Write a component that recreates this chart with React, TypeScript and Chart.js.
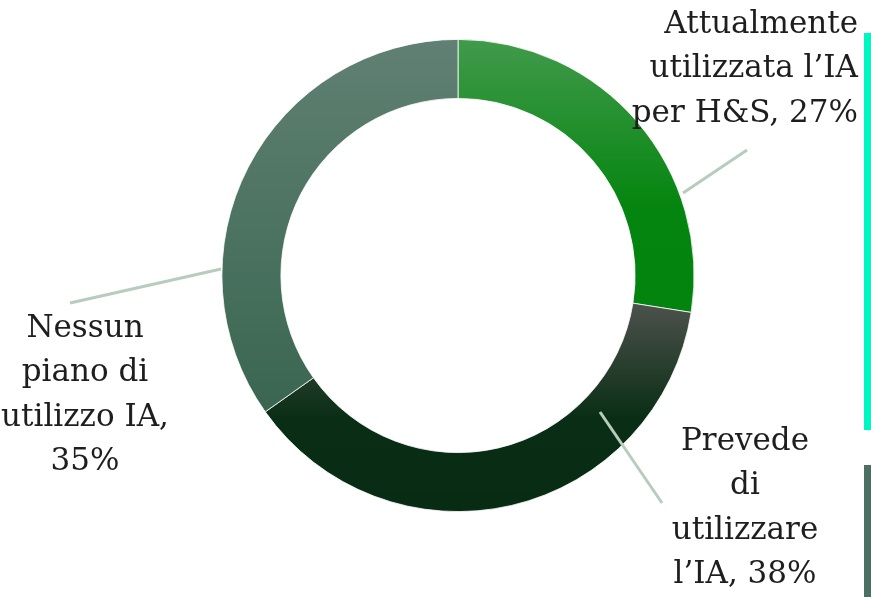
import React, { useEffect, useRef } from "react";
import { Chart, registerables } from "chart.js";

Chart.register(...registerables);

const categories = [
  "Attualmente utilizzata l’IA per H&S",
  "Prevede di utilizzare l’IA",
  "Nessun piano di utilizzo IA",
];
const values = [27.5, 37.7, 34.8];
const labelLines = [
  ["Attualmente", "utilizzata l’IA", "per H&S, 27%"],
  ["Prevede", "di", "utilizzare", "l’IA, 38%"],
  ["Nessun", "piano di", "utilizzo IA,", "35%"],
];
// gradient stops as fraction of ring height (top -> bottom)
const gradientStops: [number, string][][] = [
  [[0, "#419a4b"], [0.36, "#04850f"], [1, "#00800f"]],
  [[0.56, "#4c514c"], [0.8, "#0a2e15"], [1, "#082b13"]],
  [[0, "#608073"], [0.78, "#3a6651"], [1, "#386450"]],
];

// label layout: anchor relative to chart centre
const labelLayout = [
  { align: "right", x: 400, y: -242.5, line: [[225, -82.5], [289, -125.5]] },
  { align: "center", x: 287, y: 174.5, line: [[142, 136.5], [204, 227.5]] },
  { align: "center", x: -373, y: 61.5, line: [[-237, -6.5], [-388, 27.5]] },
];

const labelPlugin = {
  id: "labelPlugin",
  afterDraw(chart: any) {
    const ctx = chart.ctx;
    const meta = chart.getDatasetMeta(0);
    const arc = meta.data[0];
    const cx = arc.x;
    const cy = arc.y;
    ctx.save();
    labelLayout.forEach((l, i) => {
      ctx.strokeStyle = "#b6cdbd";
      ctx.lineWidth = 3;
      ctx.beginPath();
      ctx.moveTo(cx + l.line[0][0], cy + l.line[0][1]);
      ctx.lineTo(cx + l.line[1][0], cy + l.line[1][1]);
      ctx.stroke();
      ctx.fillStyle = "#1e1e1e";
      ctx.font = '31px "DejaVu Serif"';
      ctx.textAlign = l.align as CanvasTextAlign;
      ctx.textBaseline = "alphabetic";
      labelLines[i].forEach((t, j) => {
        ctx.fillText(t, cx + l.x, cy + l.y + j * 44.3);
      });
    });
    // cut-off legend swatches at the right edge
    ctx.fillStyle = "#00f5c0";
    ctx.fillRect(864, 33, 10, 397);
    ctx.fillStyle = "#4b6f61";
    ctx.fillRect(864, 465, 10, 140);
    ctx.restore();
  },
};

export default function App() {
  const ref = useRef<HTMLCanvasElement>(null);
  useEffect(() => {
    document.body.style.margin = "0";
    const chart = new Chart(ref.current!, {
      type: "doughnut",
      data: {
        labels: categories,
        datasets: [
          {
            data: values,
            backgroundColor: (c: any) => {
              const area = c.chart.chartArea;
              if (!area) return "#000";
              const i = c.dataIndex;
              const size = Math.min(area.right - area.left, area.bottom - area.top);
              const cy = (area.top + area.bottom) / 2;
              const top = cy - size / 2;
              const g = c.chart.ctx.createLinearGradient(0, top, 0, top + size);
              gradientStops[i].forEach(([o, col]) => g.addColorStop(o, col));
              return g;
            },
            borderColor: "#ffffff",
            borderWidth: 0.8,
          },
        ],
      },
      options: {
        animation: false,
        responsive: false,
        cutout: "75%",
        layout: { padding: { left: 221.5, right: 176.5, top: 39, bottom: 85 } },
        plugins: { legend: { display: false }, tooltip: { enabled: false } },
      },
      plugins: [labelPlugin],
    });
    return () => chart.destroy();
  }, []);
  return (
    <div style={{ position: "absolute", left: 0, top: 0, width: 871, height: 597, background: "#fff" }}>
      <canvas ref={ref} width={871} height={597} />
    </div>
  );
}
